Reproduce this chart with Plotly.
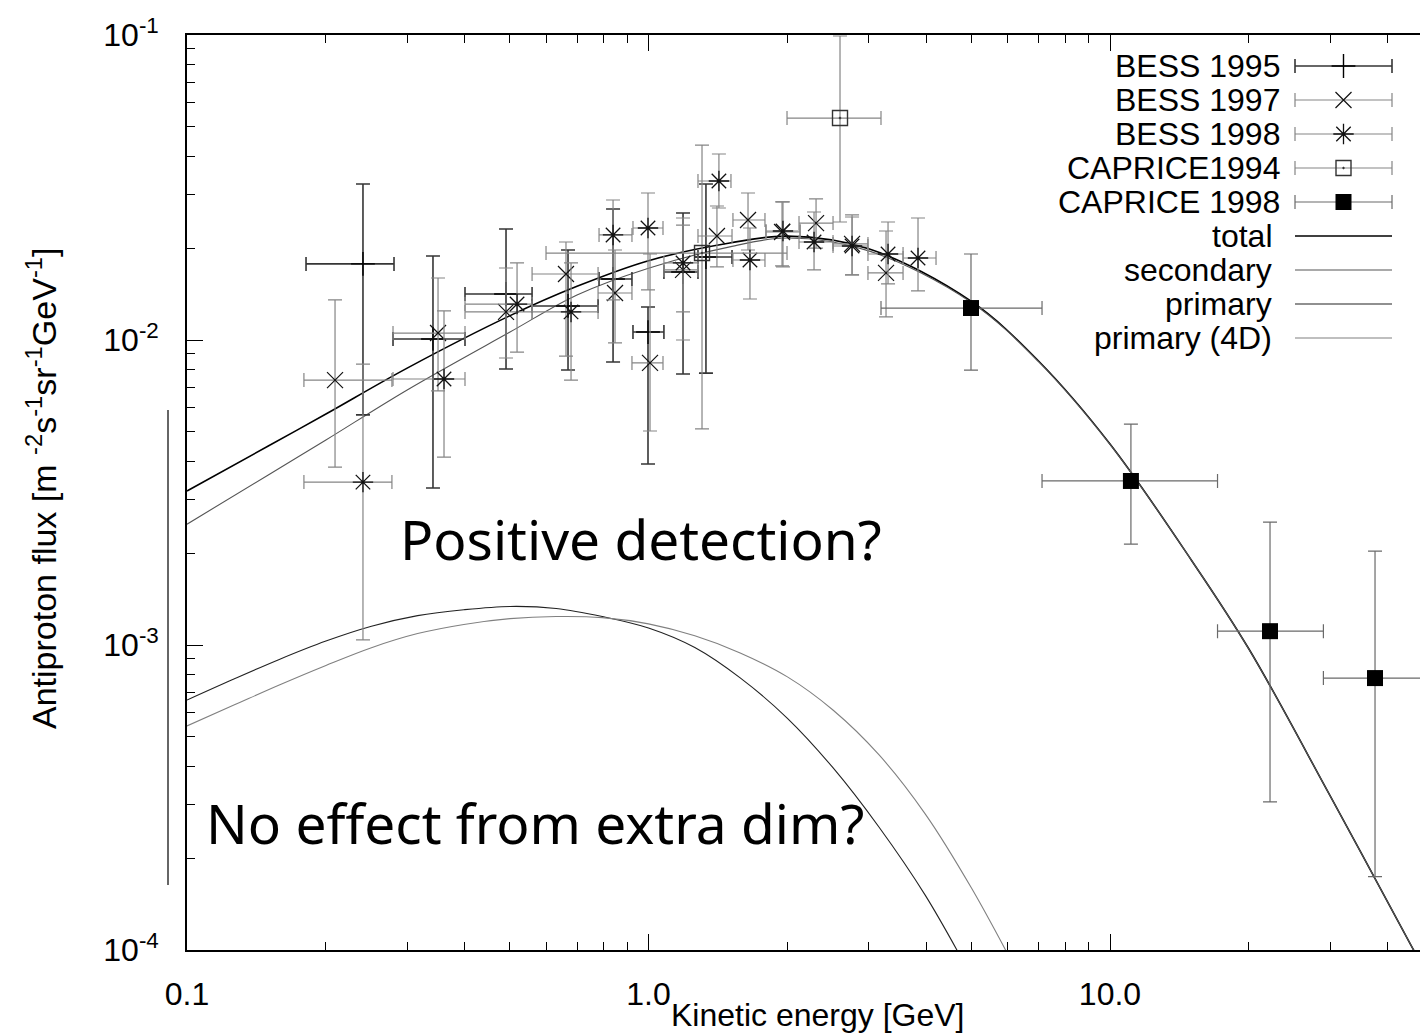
import plotly.graph_objects as go

# ---------------- data ----------------
# model curves: kinetic energy [GeV] and flux
curve_E = [0.1, 0.15, 0.2, 0.3, 0.5, 0.7, 1.0, 1.5, 2.0, 3.0, 5.0, 7.0, 10.0, 15.0, 20.0, 30.0, 45.0, 50.0]
total = [3.20e-3, 4.49e-3, 5.72e-3, 8.09e-3, 1.20e-2, 1.50e-2, 1.82e-2, 2.08e-2, 2.19e-2, 1.99e-2,
         1.34e-2, 8.53e-3, 4.56e-3, 1.90e-3, 9.70e-4, 3.20e-4, 1.03e-4, 7.7e-5]
secondary = [2.49e-3, 3.61e-3, 4.70e-3, 6.86e-3, 1.06e-2, 1.405e-2, 1.72e-2, 2.02e-2, 2.16e-2, 1.96e-2,
             1.33e-2, 8.50e-3, 4.55e-3, 1.90e-3, 9.69e-4, 3.20e-4, 1.03e-4, 7.7e-5]

prim_E = [0.1, 0.126, 0.158, 0.2, 0.251, 0.316, 0.398, 0.501, 0.631, 0.794,
          1.0, 1.26, 1.58, 2.0, 2.51, 3.16, 3.98, 5.01]
primary = [6.60e-4, 7.72e-4, 8.95e-4, 1.030e-3, 1.152e-3, 1.248e-3, 1.305e-3, 1.338e-3, 1.318e-3, 1.240e-3,
           1.137e-3, 9.81e-4, 7.80e-4, 5.75e-4, 3.96e-4, 2.526e-4, 1.510e-4, 8.18e-5]

prim4d_E = [0.1, 0.126, 0.158, 0.2, 0.251, 0.316, 0.398, 0.501, 0.631, 0.794,
            1.0, 1.26, 1.58, 2.0, 2.51, 3.16, 3.98, 5.01, 6.31]
primary_4d = [5.43e-4, 6.34e-4, 7.38e-4, 8.57e-4, 9.80e-4, 1.090e-3, 1.168e-3, 1.220e-3, 1.240e-3, 1.230e-3,
              1.173e-3, 1.072e-3, 9.42e-4, 7.86e-4, 6.12e-4, 4.36e-4, 2.79e-4, 1.596e-4, 8.41e-5]

# BESS 1995
b95_E   = [0.2406, 0.3412, 0.4912, 0.6693, 0.8379, 0.9975, 1.188, 1.332]
b95_Elo = [0.1811, 0.2795, 0.4003, 0.5594, 0.7813, 0.9255, 1.080, 1.280]
b95_Ehi = [0.2809, 0.4003, 0.5594, 0.7775, 0.9208, 1.080, 1.280, 1.517]
b95_F   = [0.01776, 0.01008, 0.01416, 0.01293, 0.01585, 0.01062, 0.01671, 0.01871]
b95_Flo = [0.00568, 0.00327, 0.00803, 0.00797, 0.00847, 0.00392, 0.00774, 0.00779]
b95_Fhi = [0.03247, 0.01885, 0.02312, 0.01973, 0.02688, 0.01283, 0.02608, 0.03247]

# BESS 1997
b97_E   = [0.2093, 0.3499, 0.4912, 0.6625, 0.8462, 1.0076, 1.188, 1.407, 1.643, 1.947, 2.307, 2.761, 3.271]
b97_Elo = [0.1792, 0.2795, 0.4003, 0.5594, 0.7775, 0.9208, 1.080, 1.280, 1.524, 1.797, 2.119, 2.511, 2.989]
b97_Ehi = [0.2780, 0.4003, 0.5594, 0.7775, 0.9208, 1.075, 1.280, 1.517, 1.788, 2.130, 2.511, 2.989, 3.561]
b97_F   = [0.00739, 0.01054, 0.01236, 0.01646, 0.01426, 0.00841, 0.01697, 0.02193, 0.02474, 0.02260, 0.02418, 0.02065, 0.01659]
b97_Flo = [0.00383, 0.00681, 0.00873, 0.00886, 0.00978, 0.00503, 0.01000, 0.01736, 0.01973, 0.01749, 0.02002, 0.01634, 0.01190]
b97_Fhi = [0.01353, 0.01597, 0.01722, 0.02096, 0.01973, 0.01914, 0.02512, 0.02750, 0.03034, 0.02835, 0.02900, 0.02570, 0.02277]

# BESS 1998
b98_E   = [0.2406, 0.3605, 0.5190, 0.6794, 0.8379, 0.9975, 1.188, 1.421, 1.659, 1.956, 2.284, 2.761, 3.304, 3.837]
b98_Elo = [0.1792, 0.2795, 0.4003, 0.5594, 0.7813, 0.9255, 1.080, 1.280, 1.524, 1.797, 2.119, 2.511, 2.989, 3.561]
b98_Ehi = [0.2780, 0.4003, 0.5594, 0.7775, 0.9208, 1.075, 1.280, 1.509, 1.788, 2.130, 2.511, 2.989, 3.561, 4.198]
b98_F   = [0.00342, 0.00745, 0.01312, 0.01236, 0.02210, 0.02329, 0.01789, 0.03321, 0.01829, 0.02277, 0.02096, 0.02033, 0.01914, 0.01857]
b98_Flo = [0.00104, 0.00413, 0.00913, 0.00739, 0.01353, 0.01459, 0.01236, 0.02709, 0.01363, 0.01736, 0.01697, 0.01634, 0.01527, 0.01448]
b98_Fhi = [0.00834, 0.01245, 0.01789, 0.01789, 0.02878, 0.03034, 0.02382, 0.04072, 0.02329, 0.02835, 0.02628, 0.02531, 0.02437, 0.02512]

# CAPRICE 1994
c94_E   = [1.306, 2.600]
c94_Elo = [0.5997, 1.996]
c94_Ehi = [1.996, 3.190]
c94_F   = [0.01928, 0.05342]
c94_Flo = [0.00511, 0.02437]
c94_Fhi = [0.04357, 0.09925]

# CAPRICE 1998
c98_E   = [4.998, 11.10, 22.22, 37.52]
c98_Elo = [3.190, 7.124, 17.10, 29.0]
c98_Ehi = [7.124, 17.10, 29.0, 50.0]
c98_F   = [0.01273, 0.00345, 0.00111, 0.000779]
c98_Flo = [0.00797, 0.00214, 0.000306, 0.000174]
c98_Fhi = [0.01914, 0.00530, 0.00253, 0.00203]

x_tick_vals = [0.1, 1.0, 10.0]
x_tick_text = ["0.1", "1.0", "10.0"]
y_tick_vals = [1e-4, 1e-3, 1e-2, 1e-1]
y_tick_text = ["10<sup>-4</sup>", "10<sup>-3</sup>", "10<sup>-2</sup>", "10<sup>-1</sup>"]

# ---------------- layout geometry ----------------
W, H = 1420, 1034
ML, MR, MT, MB = 187, 0, 35, 84
PW, PH = W - ML - MR, H - MT - MB


def pxx(x):
    return (x - ML) / PW


def pxy(y):
    return (H - MB - y) / PH


AX_FONT = "Liberation Sans, Arial, sans-serif"
BIG_FONT = "Noto Sans, Open Sans, sans-serif"

datasets = [
    dict(name="BESS 1995", E=b95_E, Elo=b95_Elo, Ehi=b95_Ehi, F=b95_F, Flo=b95_Flo, Fhi=b95_Fhi,
         symbol="cross-thin", size=17, mline=1.4, mcolor="black", barcolor="#363636", barw=1.6),
    dict(name="BESS 1997", E=b97_E, Elo=b97_Elo, Ehi=b97_Ehi, F=b97_F, Flo=b97_Flo, Fhi=b97_Fhi,
         symbol="x-thin", size=16, mline=1.2, mcolor="#111", barcolor="#858585", barw=1.2),
    dict(name="BESS 1998", E=b98_E, Elo=b98_Elo, Ehi=b98_Ehi, F=b98_F, Flo=b98_Flo, Fhi=b98_Fhi,
         symbol="asterisk", size=17, mline=1.3, mcolor="#111", barcolor="#858585", barw=1.2),
    dict(name="CAPRICE1994", E=c94_E, Elo=c94_Elo, Ehi=c94_Ehi, F=c94_F, Flo=c94_Flo, Fhi=c94_Fhi,
         symbol="square-open-dot", size=15, mline=1.4, mcolor="#333", barcolor="#858585", barw=1.2),
    dict(name="CAPRICE 1998", E=c98_E, Elo=c98_Elo, Ehi=c98_Ehi, F=c98_F, Flo=c98_Flo, Fhi=c98_Fhi,
         symbol="square", size=16, mline=0, mcolor="black", barcolor="#6a6a6a", barw=1.2),
]

curves = [
    dict(name="total", E=curve_E, F=total, color="black", width=1.6),
    dict(name="secondary", E=curve_E, F=secondary, color="#555555", width=1.1),
    dict(name="primary", E=prim_E, F=primary, color="#222222", width=1.1),
    dict(name="primary (4D)", E=prim4d_E, F=primary_4d, color="#808080", width=1.1),
]

fig = go.Figure()

for c in curves:
    fig.add_trace(go.Scatter(x=c["E"], y=c["F"], mode="lines", name=c["name"],
                             line=dict(color=c["color"], width=c["width"], shape="spline", smoothing=1.0),
                             showlegend=False, hoverinfo="skip"))

for d in datasets:
    ex_p = [h - e for h, e in zip(d["Ehi"], d["E"])]
    ex_m = [e - l for e, l in zip(d["E"], d["Elo"])]
    ey_p = [h - f for h, f in zip(d["Fhi"], d["F"])]
    ey_m = [f - l for f, l in zip(d["F"], d["Flo"])]
    if d["symbol"] == "square":
        marker = dict(symbol="square", size=d["size"], color=d["mcolor"])
    else:
        marker = dict(symbol=d["symbol"], size=d["size"], color=d["mcolor"],
                      line=dict(width=d["mline"], color=d["mcolor"]))
    fig.add_trace(go.Scatter(
        x=d["E"], y=d["F"], mode="markers", name=d["name"], marker=marker, showlegend=False,
        error_x=dict(type="data", symmetric=False, array=ex_p, arrayminus=ex_m,
                     width=7, thickness=d["barw"], color=d["barcolor"]),
        error_y=dict(type="data", symmetric=False, array=ey_p, arrayminus=ey_m,
                     width=7, thickness=d["barw"], color=d["barcolor"]),
    ))

# ---------------- hand-made key (text on the left, sample on the right) ----------------
KEY_TOP = 66.0
KEY_STEP = 34.0
KEY_TEXT_RIGHT = 1282
KEY_LEFT, KEY_RIGHT = 1295, 1392
kx = pxx((KEY_LEFT + KEY_RIGHT) / 2)
khalf = (KEY_RIGHT - KEY_LEFT) / 2 / PW
annotations = []
row = 0
for d in datasets:
    ky = pxy(KEY_TOP + KEY_STEP * row)
    if d["symbol"] == "square":
        marker = dict(symbol="square", size=d["size"], color=d["mcolor"])
    else:
        marker = dict(symbol=d["symbol"], size=d["size"], color=d["mcolor"],
                      line=dict(width=d["mline"], color=d["mcolor"]))
    fig.add_trace(go.Scatter(x=[kx], y=[ky], xaxis="x2", yaxis="y2", mode="markers",
                             marker=marker, showlegend=False, hoverinfo="skip",
                             error_x=dict(type="constant", value=khalf, width=7,
                                          thickness=d["barw"], color=d["barcolor"])))
    annotations.append(dict(x=pxx(KEY_TEXT_RIGHT), y=ky, xref="paper", yref="paper",
                            text=d["name"], showarrow=False, xanchor="right", yanchor="middle",
                            font=dict(family=AX_FONT, size=32, color="black")))
    row += 1
for c in curves:
    ky = pxy(KEY_TOP + KEY_STEP * row)
    fig.add_trace(go.Scatter(x=[kx - khalf, kx + khalf], y=[ky, ky], xaxis="x2", yaxis="y2",
                             mode="lines", line=dict(color=c["color"], width=c["width"]),
                             showlegend=False, hoverinfo="skip"))
    annotations.append(dict(x=pxx(KEY_TEXT_RIGHT - 8), y=ky, xref="paper", yref="paper",
                            text=c["name"], showarrow=False, xanchor="right", yanchor="middle",
                            font=dict(family=AX_FONT, size=32, color="black")))
    row += 1

# axis titles
annotations.append(dict(x=pxx(817), y=pxy(1015), xref="paper", yref="paper",
                        text="Kinetic energy [GeV]", showarrow=False, xanchor="center", yanchor="middle",
                        font=dict(family=AX_FONT, size=32, color="black")))
annotations.append(dict(x=pxx(42), y=pxy(488), xref="paper", yref="paper", textangle=-90,
                        text="Antiproton flux [m <sup>-2</sup>s<sup>-1</sup>sr<sup>-1</sup>GeV<sup>-1</sup>]",
                        showarrow=False, xanchor="center", yanchor="middle",
                        font=dict(family=AX_FONT, size=34, color="black")))
# big remarks
annotations.append(dict(x=pxx(398), y=pxy(538), xref="paper", yref="paper",
                        text="Positive detection?", showarrow=False, xanchor="left", yanchor="middle",
                        font=dict(family=BIG_FONT, size=55, color="black")))
annotations.append(dict(x=pxx(204), y=pxy(822), xref="paper", yref="paper",
                        text="No effect from extra dim?", showarrow=False, xanchor="left", yanchor="middle",
                        font=dict(family=BIG_FONT, size=55, color="black")))

x_minor = [k * 10.0 ** p for p in (-1, 0, 1) for k in range(2, 10)]
y_minor = [k * 10.0 ** p for p in (-4, -3, -2) for k in range(2, 10)]

fig.update_layout(
    width=W, height=H,
    margin=dict(l=ML, r=MR, t=MT, b=MB),
    paper_bgcolor="white", plot_bgcolor="white",
    showlegend=False,
    xaxis=dict(type="log", range=[-1, -1 + PW / 461.5], tickmode="array",
               tickvals=x_tick_vals, ticktext=x_tick_text,
               ticks="inside", ticklen=16, tickwidth=1.3, tickcolor="black",
               showline=True, linecolor="black", linewidth=1.6, mirror="ticks",
               showgrid=False, zeroline=False, ticklabelstandoff=15,
               tickfont=dict(family=AX_FONT, size=32, color="black"),
               minor=dict(tickmode="array", tickvals=x_minor, ticks="inside", ticklen=8,
                          tickwidth=1, tickcolor="black", showgrid=False)),
    yaxis=dict(type="log", range=[-4, -1], tickmode="array",
               tickvals=y_tick_vals, ticktext=y_tick_text,
               ticks="inside", ticklen=16, tickwidth=1.3, tickcolor="black",
               showline=True, linecolor="black", linewidth=1.6, mirror=False,
               showgrid=False, zeroline=False, ticklabelstandoff=20,
               tickfont=dict(family=AX_FONT, size=32, color="black"),
               minor=dict(tickmode="array", tickvals=y_minor, ticks="inside", ticklen=8,
                          tickwidth=1, tickcolor="black", showgrid=False)),
    xaxis2=dict(overlaying="x", range=[0, 1], visible=False, fixedrange=True),
    yaxis2=dict(overlaying="y", range=[0, 1], visible=False, fixedrange=True),
    annotations=annotations,
    shapes=[dict(type="line", xref="paper", yref="paper", x0=pxx(168), x1=pxx(168),
                 y0=pxy(410), y1=pxy(885), line=dict(color="#333333", width=1.5))],
)

fig.write_html("out.html")
